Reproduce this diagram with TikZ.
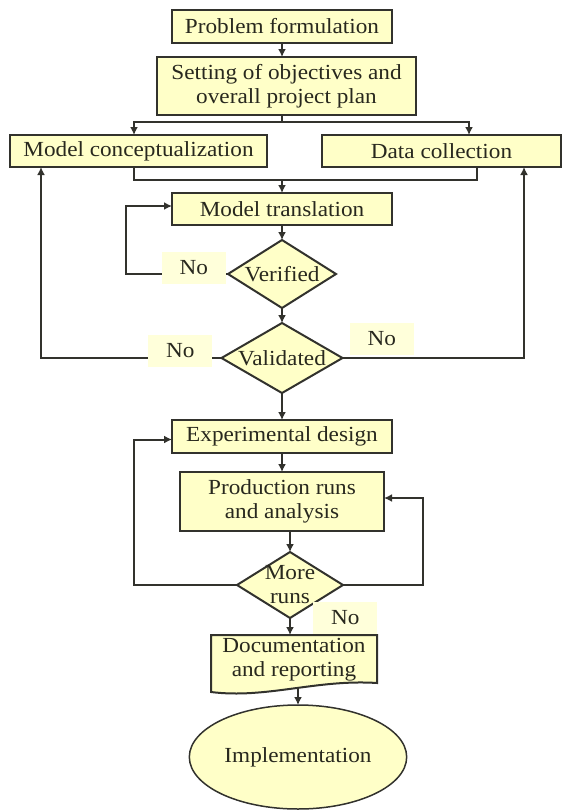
\documentclass[tikz,border=0pt]{standalone}
\usepackage{fontspec}
\setmainfont{Liberation Serif}[FakeStretch=1.08]
\usetikzlibrary{positioning,shapes.geometric,arrows.meta,backgrounds,calc}
\definecolor{boxfill}{RGB}{255,255,200}
\definecolor{nofill}{RGB}{255,255,218}
\definecolor{linec}{RGB}{50,50,45}
\definecolor{txt}{RGB}{40,40,30}
\tikzset{%
  box/.style={draw=linec,fill=boxfill,line width=2pt,align=center,outer sep=0pt,inner sep=1pt},
  test/.style={diamond,draw=linec,fill=boxfill,line width=2pt,align=center,outer sep=0pt,inner xsep=-12pt,inner ysep=-6pt},
  term/.style={ellipse,draw=linec,fill=boxfill,line width=1.5pt,outer sep=0pt},
  nolbl/.style={fill=nofill,minimum width=64pt,minimum height=32pt,inner sep=0pt},
  flow/.style={draw=linec,line width=2pt,-{Latex[length=8pt,width=8pt]}}
}

\begin{document}
\begin{tikzpicture}[every node/.style={font=\fontsize{21.5}{24}\selectfont,text=txt}]
  \useasboundingbox (0,0) rectangle (563pt,-811pt);
  \begin{scope}[on background layer]
    \fill[white] (0,0) rectangle (563pt,-811pt);
  \end{scope}

  \node[box,minimum width=220pt,minimum height=33pt] (prob) at (282pt,-26.5pt) {Problem formulation};
  \node[box,minimum width=259pt,minimum height=58pt,below=14pt of prob,xshift=4.5pt] (plan) {Setting of objectives and\\overall project plan};
  \node[box,minimum width=257pt,minimum height=32pt,below=20pt of plan,xshift=-148pt] (concept) {Model conceptualization};
  \node[box,minimum width=239pt,minimum height=32pt,below=20pt of plan,xshift=155pt] (data) {Data collection};
  \node[box,minimum width=220pt,minimum height=32pt,below=78pt of plan,xshift=-4.5pt] (transl) {Model translation};
  \node[test,minimum width=108pt,minimum height=68pt,below=15pt of transl] (verif) {Verified};
  \node[test,minimum width=121pt,minimum height=70pt,below=15pt of verif] (valid) {Validated};
  \node[box,minimum width=220pt,minimum height=33pt,below=27pt of valid] (design) {Experimental design};
  \node[box,minimum width=204pt,minimum height=59pt,below=19pt of design] (runs) {Production runs\\and analysis};
  \node[test,minimum width=106pt,minimum height=66pt,below=21pt of runs,xshift=8pt] (more) {More\\runs};
  \node[align=center,minimum width=166pt,minimum height=46pt,inner sep=0pt,outer sep=0pt,below=19pt of more,xshift=4pt] (doc) {Documentation\\and reporting};
  \node[term,minimum width=188pt,minimum height=104pt,below=22pt of doc,xshift=4pt] (impl) {Implementation};

  % document shape with the wavy bottom
  \begin{scope}[on background layer]
    \draw[fill=boxfill,draw=linec,line width=2pt] ([yshift=2pt]doc.north west) -- ([yshift=-9pt]doc.south west)
      .. controls ([xshift=55pt,yshift=-16pt]doc.south west) and ([xshift=-60pt,yshift=4pt]doc.south east) .. (doc.south east)
      -- ([yshift=2pt]doc.north east) -- cycle;
  \end{scope}

  % top part
  \draw[flow] (prob.south) -- (prob.south |- plan.north);
  \draw[line width=2pt,draw=linec] (prob.south |- plan.south) -- ++(0,-7pt) coordinate (split);
  \draw[flow] (split) -| ([xshift=-4.5pt]concept.north);
  \draw[flow] (split) -| ([xshift=27.5pt]data.north);
  \draw[line width=2pt,draw=linec] ([xshift=-4.5pt]concept.south) |- ([yshift=13pt]transl.north) -| ([xshift=35.5pt]data.south);
  \draw[flow] ([yshift=13pt]transl.north) -- (transl.north);

  % verification and validation
  \draw[flow] (transl.south) -- (verif.north);
  \draw[flow] (verif.west) -- ++(-102pt,0) |- ([yshift=3pt]transl.west);
  \draw[flow] (verif.south) -- (valid.north);
  \draw[flow] (valid.west) -| ([xshift=-97.5pt]concept.south);
  \draw[flow] (valid.east) -| ([xshift=82.5pt]data.south);
  \draw[flow] (valid.south) -- (design.north);

  % runs
  \draw[flow] (design.south) -- (runs.north);
  \draw[flow] (more.north |- runs.south) -- (more.north);
  \draw[flow] (more.west) -- ++(-103pt,0) |- ([yshift=-3pt]design.west);
  \draw[flow] (more.east) -- ++(80pt,0) |- ([yshift=3.5pt]runs.east);
  \draw[flow] (more.south) -- ([yshift=2pt]more.south |- doc.north);
  \draw[flow] ($(impl.north |- doc.south)+(0,-6pt)$) -- (impl.north);

  \node[nolbl,left=2pt of verif.west,yshift=6.5pt] (noa) {No};
  \node[nolbl,left=9pt of valid.west,yshift=7pt] (nob) {No};
  \node[nolbl,right=7pt of valid.east,yshift=19pt] (noc) {No};
  \node[nolbl,right=23pt of more.south] (nod) {No};
\end{tikzpicture}
\end{document}
